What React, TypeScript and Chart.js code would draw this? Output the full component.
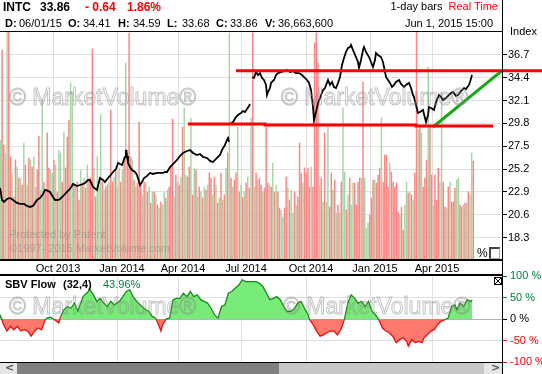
import React, { useEffect, useRef } from 'react';
import { Chart, registerables } from 'chart.js';

Chart.register(...registerables);

const FONT = '"Liberation Sans", Arial, Helvetica, sans-serif';

// ---- axis ticks (x in trading-day index units) ----
const MONTH_TICKS = [53, 117, 178, 241, 306, 370, 432];
const MONTH_LABELS = ['Oct 2013', 'Jan 2014', 'Apr 2014', 'Jul 2014', 'Oct 2014', 'Jan 2015', 'Apr 2015'];
const PRICE_TICKS = [36.7, 34.4, 32.1, 29.8, 27.5, 25.2, 22.9, 20.6, 18.3];
const SBV_TICKS = [100, 50, 0, -50, -100];
const X_MAX = 503;

// ---- volume (millions), one bar per slot ----
const VOLUME_SLOTS = 302;
const VOLUME = [
  48, 84, 46, 42.8, 91.2, 91.2, 41.2, 34.8, 25.2, 40,
  37.2, 32.8, 32.8, 30, 46.8, 38, 30, 40.8, 40, 37.2,
  41.2, 29.2, 36, 49.6, 28, 64, 31.2, 27.2, 50.8, 36.8,
  36, 34.8, 40, 38, 27.2, 44, 42.8, 31.2, 51.2, 36.8,
  49.2, 56, 70.8, 67.2, 30.8, 29.2, 31.2, 24, 36, 30.8,
  32.8, 28.8, 38, 32.8, 32.8, 84.4, 36.8, 25.2, 41.2, 29.2,
  58, 31.2, 28, 29.2, 30, 31.2, 60, 31.2, 33.2, 36,
  29.2, 36.8, 31.2, 36, 41.2, 78.8, 44, 90.8, 41.2, 40,
  32, 29.2, 30.8, 55.2, 30, 26, 31.2, 30.8, 27.2, 29.2,
  22.8, 27.2, 27.2, 26, 22, 20.8, 23.2, 22, 27.2, 24.8,
  28, 29.2, 37.2, 56.4, 25.2, 34, 31.2, 30, 33.2, 53.2,
  60.8, 34, 33.2, 37.2, 56.8, 26, 36.8, 36, 25.2, 29.2,
  27.2, 24.8, 29.2, 28, 30, 34.8, 32.8, 26, 33.2, 30,
  22.8, 24.8, 34.8, 24, 26, 36.8, 42.8, 90.8, 32.8, 29.2,
  32, 34.8, 53.2, 27.2, 30, 25.2, 27.2, 30.8, 33.2, 28.8,
  56.8, 90.8, 29.2, 34.8, 32, 32.8, 30, 27.2, 28.8, 53.2,
  30.8, 30, 29.2,
  38.8, 27.2, 30, 27.2, 20.8, 20, 17.2, 20.8, 33.2, 28.8,
  24, 28, 18.8, 27.2, 22, 25.2, 46.8, 34.8, 30.8, 36.8,
  34.8, 36.8, 29.2, 37.2, 29.2, 86.8, 90.8, 78.8, 30, 32.8,
  23.2, 50.8, 23.2, 53.2, 21.2, 34.8, 28, 32, 18.8, 22,
  18.8, 31.2, 60.8, 35.2, 20, 26, 32.8, 22, 30.8, 30.8,
  22, 31.2, 32.8, 32.8, 71.2, 32.8, 12.8, 14.8, 18, 24.8,
  32, 32, 30.8, 34, 36.8, 56.8, 31.2, 42, 42, 29.2,
  38.8, 35.2, 31.2, 29.2, 30.8, 19.2, 18, 21.2, 12, 22,
  31.2, 26.8, 27.2, 26, 24, 34.8, 91.2, 52, 53.2, 50.8,
  29.2, 32.8, 40, 77.2, 53.2, 34, 22, 34, 24, 36.8,
  31.2, 67.2, 31.2, 21.2, 20.8, 29.2, 31.2, 23.2, 23.2, 28.8,
  32, 32.8, 22, 21.2, 22, 22.8, 22.8, 27.2, 26, 42.8,
  39.6,
];
// g = up day (green), r = down day (red)
const VOLUME_DIR = (
  'grrggrrgrr' + 'grgrgrgrgr' + 'ggrrggrrrr' + 'ggrgrggrgr' + 'rrggrgrrgr' +
  'grgrrrgrgg' + 'grgrrgrrgr' + 'ggrgrgrrrg' + 'rgrrrgrgrg' + 'rgrgrgrggr' +
  'grrrgrgrgr' + 'ggrrgrgrgr' + 'grgrgrrgrg' + 'rgrgrgrgrg' + 'rrgrgrgrgr' +
  'grgrgrrgrr' + 'rgr' +
  'grgrrggrrg' + 'rggrgrrrgr' + 'rrrgrrrrgr' + 'grggrrgrgr' + 'grggrgrggr' +
  'rrrgrgggrr' + 'rgrrrgrrrr' + 'grrrrrgrrg' + 'grgrgrrgrg' + 'rrrgrrgrrr' +
  'ggrrgrgrrr' + 'ggrrgrgrggr'
).split('');

// ---- price (trading day, close) ----
const PRICE_A: [number, number][] = [
  [0, 23.3], [2, 22.09], [4, 21.89], [7, 22.19], [10, 22.29], [13, 22.09], [17, 21.79], [20, 21.69],
  [24, 21.69], [27, 21.49], [30, 21.39], [33, 21.49], [35, 21.79], [37, 22.09], [40, 22.29], [43, 22.69],
  [45, 23.1], [48, 23.0], [50, 22.9], [53, 22.39], [55, 22.09], [58, 22.09], [60, 22.19], [63, 22.49],
  [67, 22.9], [70, 23.2], [73, 23.7], [77, 23.5], [80, 23.6], [83, 23.7], [85, 23.8], [88, 24.1],
  [90, 24.1], [93, 23.4], [97, 23.1], [98, 23.5], [100, 24.3], [103, 24.1], [105, 23.9], [108, 24.3],
  [110, 24.51], [113, 24.91], [116, 25.21], [118, 25.81], [120, 25.71], [122, 25.61], [125, 26.42],
  [126, 27.12], [127, 26.52], [128, 25.81], [130, 25.41], [132, 25.11], [135, 24.91], [137, 24.61],
  [140, 23.6], [142, 23.9], [144, 24.3], [147, 24.51], [150, 24.81], [153, 24.71], [157, 24.81],
  [160, 24.81], [163, 24.81], [165, 24.91], [167, 24.91], [170, 25.41], [173, 25.71], [177, 26.12],
  [180, 26.52], [183, 26.82], [187, 27.02], [190, 27.12], [193, 26.82], [197, 26.62], [200, 26.72],
  [203, 26.42], [207, 26.32], [210, 26.02], [213, 25.91], [217, 26.32], [220, 26.62], [222, 27.12],
  [225, 27.63], [227, 28.13], [228, 28.33], [229, 27.93],
];
const PRICE_B: [number, number][] = [
  [230, 29.74], [233, 29.94], [236, 30.44], [238, 30.65], [241, 30.85], [243, 31.05], [245, 30.95],
  [247, 31.25], [249, 31.55], [250, 31.75],
];
const PRICE_C: [number, number][] = [
  [252, 34.47], [254, 34.37], [256, 34.97], [258, 34.67], [260, 34.87], [262, 34.37], [264, 34.17],
  [266, 33.67], [267, 32.66], [268, 32.96], [270, 33.36], [271, 33.87], [274, 34.17], [276, 34.67],
  [278, 34.87], [281, 34.97], [284, 35.07], [287, 35.18], [290, 34.97], [293, 35.07], [296, 34.87],
  [299, 34.87], [302, 34.67], [304, 34.47], [307, 34.17], [309, 33.87], [311, 33.16], [313, 31.45],
  [314, 30.14], [316, 30.95], [318, 31.85], [320, 32.36], [323, 33.16], [325, 33.36], [328, 34.17],
  [330, 33.67], [332, 33.97], [334, 33.46], [336, 33.36], [338, 33.87], [340, 34.47], [342, 35.68],
  [344, 36.38], [346, 36.99], [348, 37.39], [350, 37.49], [351, 37.69], [353, 37.19], [356, 36.48],
  [358, 35.98], [359, 35.38], [361, 36.18], [363, 37.19], [364, 37.49], [366, 36.99], [369, 36.48],
  [371, 35.98], [373, 35.48], [375, 36.18], [376, 36.89], [378, 36.68], [381, 36.48], [383, 35.98],
  [384, 35.48], [386, 34.47], [388, 34.17], [390, 33.87], [392, 33.46], [394, 33.67], [396, 33.97],
  [399, 34.17], [401, 33.77], [404, 33.46], [406, 33.67], [409, 33.87], [411, 33.36], [413, 32.66],
  [414, 32.46], [416, 31.65], [418, 30.85], [420, 30.95], [423, 31.15], [425, 30.34], [426, 29.94],
  [428, 30.65], [429, 31.45], [431, 31.35], [434, 31.15], [436, 31.95], [439, 32.66], [441, 32.46],
  [443, 32.16], [446, 32.36], [448, 32.56], [451, 32.86], [453, 32.96], [456, 32.56], [458, 32.66],
  [461, 33.06], [464, 33.36], [466, 33.26], [469, 33.67], [470, 33.97], [472, 34.67],
];

// ---- drawn study lines ----
const RESISTANCE: [number, number][] = [[236, 35.1], [542, 35.1]];
const SUPPORT: [number, number][] = [[188, 29.74], [265, 29.74], [265, 29.64], [416, 29.64], [416, 29.54], [493, 29.54]];
const TREND: [number, number][] = [[433, 29.44], [502, 35.12]];

// ---- SBV Flow (%) ----
const SBV: [number, number][] = [
  [0, 10], [1.7, 0], [3.5, -13], [6.9, -28], [10.4, -17], [13.8, -25], [17.3, -17], [20.8, -28],
  [24.2, -25], [27.7, -28], [31.1, -40], [34.6, -28], [38.1, -21], [41.5, -25], [45, -2], [46.7, 2],
  [50.2, 4], [53.6, 0], [58.8, -9], [60.6, 6], [64, 22], [67.5, 29], [70.9, 25], [74.4, 37], [77.9, 18],
  [83, 52], [86.5, 60], [90, 68], [93.4, 56], [96.9, 41], [100.3, 48], [103.8, 37], [107.3, 29],
  [110.7, 41], [114.2, 33], [119.4, 41], [122.8, 52], [126.3, 64], [129.8, 68], [133.2, 52],
  [136.7, 41], [141.9, 29], [145.3, 22], [148.8, 18], [152.2, 6], [155.7, 2], [159.2, -17],
  [160.9, -28], [162.6, -13], [166.1, 0], [169.6, 2], [173, 45], [176.5, 48], [179.9, 48],
  [183.4, 60], [186.9, 52], [190.3, 64], [193.8, 52], [197.2, 56], [200.7, 45], [204.2, 41],
  [207.6, 37], [211.1, 25], [214.5, 10], [218, 2], [221.5, 29], [224.9, 33], [228.4, 60],
  [231.8, 64], [235.3, 72], [238.8, 79], [242.2, 91], [245.7, 87], [249.1, 87], [256.1, 87],
  [259.5, 83], [263, 75], [266.4, 60], [269.9, 45], [273.4, 48], [276.8, 52], [280.3, 45],
  [283.7, 29], [287.2, 18], [290.7, 18], [294.1, 22], [297.6, 37], [301, 41], [304.5, 25],
  [308, 10], [309.7, -2], [313.1, -13], [316.6, -28], [320.1, -40], [323.5, -37], [327, -32],
  [330.4, -28], [333.9, -28], [337.4, -37], [340.8, -25], [344.3, -2], [347.8, 37], [351.2, 56],
  [354.7, 48], [358.1, 37], [361.6, 41], [365.1, 29], [368.5, 41], [372, 18], [375.4, 10],
  [378.9, -2], [382.4, -21], [385.8, -28], [389.3, -32], [392.7, -40], [396.2, -55], [399.7, -48],
  [403.1, -44], [406.6, -52], [408.3, -63], [411.8, -48], [415.2, -55], [418.7, -52], [422.1, -55],
  [423.9, -44], [427.3, -37], [430.8, -28], [434.3, -25], [437.7, -13], [441.2, -5], [444.6, -2],
  [448.1, 2], [451.6, 29], [455, 33], [456.7, 22], [460.2, 37], [463.7, 29], [467.1, 45],
  [470.6, 41], [472.3, 44],
];

const VOL_UP = '#a9d5a6';
const VOL_DOWN = '#ff8585';
const GRID = '#e0e0e0';
const GREEN_TXT = '#008040';
const RED = '#ff0000';

const toPts = (arr: [number, number][]) => arr.map(([x, y]) => ({ x, y }));
const sbvColor = (v: number) => (v > 0 ? GREEN_TXT : v < 0 ? RED : '#000');

export default function App() {
  const mainRef = useRef<HTMLCanvasElement>(null);
  const sbvRef = useRef<HTMLCanvasElement>(null);

  useEffect(() => {
    document.body.style.margin = '0';
    Chart.defaults.font.family = FONT;
    Chart.defaults.font.size = 11;
    Chart.defaults.color = '#000';

    const wmMain = {
      id: 'wmMain',
      afterDatasetsDraw(chart: any) {
        const ctx = chart.ctx;
        ctx.save();
        ctx.font = `23px ${FONT}`;
        ctx.strokeStyle = 'rgba(140,140,140,0.5)';
        ctx.lineWidth = 1;
        ctx.strokeText('© MarketVolume®', 9, 105);
        ctx.strokeText('© MarketVolume®', 281, 105);
        ctx.font = `11px ${FONT}`;
        ctx.fillStyle = 'rgba(120,120,120,0.45)';
        ctx.fillText('Protected by Patent', 9, 238);
        ctx.fillText('©1997- 2015 MarketVolume.com', 9, 252);
        ctx.restore();
      },
    };
    const wmSbv = {
      id: 'wmSbv',
      afterDatasetsDraw(chart: any) {
        const ctx = chart.ctx;
        ctx.save();
        ctx.font = `23px ${FONT}`;
        ctx.strokeStyle = 'rgba(140,140,140,0.5)';
        ctx.lineWidth = 1;
        ctx.strokeText('© MarketVolume®', 9, 52);
        ctx.strokeText('© MarketVolume®', 283, 52);
        ctx.restore();
      },
    };

    const slotLabels = Array.from({ length: VOLUME_SLOTS }, (_, i) => String(i));
    const lineBase = { pointRadius: 0, tension: 0, xAxisID: 'x', yAxisID: 'y', fill: false };

    const c1 = new Chart(mainRef.current as HTMLCanvasElement, {
      type: 'bar',
      data: {
        labels: slotLabels,
        datasets: [
          { ...lineBase, type: 'line', label: 'Resistance', data: toPts(RESISTANCE), borderColor: RED, borderWidth: 3, clip: false, order: 0 } as any,
          { ...lineBase, type: 'line', label: 'Support', data: toPts(SUPPORT), borderColor: RED, borderWidth: 3, clip: false, order: 0 } as any,
          { ...lineBase, type: 'line', label: 'Trend', data: toPts(TREND), borderColor: '#16a816', borderWidth: 3, clip: false, order: 0 } as any,
          { ...lineBase, type: 'line', label: 'INTC', data: toPts(PRICE_A), borderColor: '#000', borderWidth: 1.8, order: 1 } as any,
          { ...lineBase, type: 'line', label: 'INTC b', data: toPts(PRICE_B), borderColor: '#000', borderWidth: 1.8, order: 1 } as any,
          { ...lineBase, type: 'line', label: 'INTC c', data: toPts(PRICE_C), borderColor: '#000', borderWidth: 1.8, order: 1 } as any,
          {
            type: 'bar', label: 'Volume', data: VOLUME, xAxisID: 'xv', yAxisID: 'yv',
            backgroundColor: VOLUME_DIR.map((d) => (d === 'g' ? VOL_UP : VOL_DOWN)),
            barPercentage: 1, categoryPercentage: 1, borderWidth: 0, order: 2,
          } as any,
        ],
      },
      options: {
        animation: false,
        responsive: false,
        maintainAspectRatio: false,
        layout: { padding: { top: 32, left: 0, right: 0, bottom: 0 } },
        plugins: { legend: { display: false }, tooltip: { enabled: false } },
        scales: {
          x: {
            type: 'linear', position: 'bottom', min: 0, max: X_MAX, offset: false,
            afterBuildTicks: (s: any) => { s.ticks = MONTH_TICKS.map((v) => ({ value: v })); },
            afterFit: (s: any) => { s.height = 15; },
            ticks: {
              autoSkip: false, maxRotation: 0, padding: 2, labelOffset: 5, color: '#000',
              font: { size: 11, family: FONT },
              callback: (_v: any, i: number) => MONTH_LABELS[i],
            },
            grid: { color: GRID, drawTicks: false, offset: false },
            border: { display: false },
          },
          xv: { type: 'category', display: false, offset: false, grid: { offset: false } },
          y: {
            type: 'linear', position: 'right', min: 16.05, max: 39.0,
            afterBuildTicks: (s: any) => { s.ticks = PRICE_TICKS.map((v) => ({ value: v })); },
            afterFit: (s: any) => { s.width = 39; },
            ticks: { padding: 1, color: '#000', font: { size: 11, family: FONT }, callback: (v: any) => Number(v).toFixed(1) },
            grid: { color: GRID, tickColor: '#000', tickLength: 4 },
            border: { display: false },
          },
          yv: { type: 'linear', display: false, min: 0, max: 91.2 },
        },
      } as any,
      plugins: [wmMain],
    });

    const c2 = new Chart(sbvRef.current as HTMLCanvasElement, {
      type: 'line',
      data: {
        datasets: [
          {
            label: 'SBV Flow', data: toPts(SBV), pointRadius: 0, tension: 0, borderWidth: 1.3,
            borderColor: '#1a8a1a',
            segment: { borderColor: (ctx: any) => (ctx.p0.parsed.y + ctx.p1.parsed.y < 0 ? '#e81010' : '#1a8a1a') },
            fill: { target: 'origin', above: '#78ec78', below: '#ff786e' },
          } as any,
        ],
      },
      options: {
        animation: false,
        responsive: false,
        maintainAspectRatio: false,
        layout: { padding: { top: 14, left: 0, right: 0, bottom: 12 } },
        plugins: { legend: { display: false }, tooltip: { enabled: false } },
        scales: {
          x: {
            type: 'linear', min: 0, max: X_MAX, offset: false,
            afterBuildTicks: (s: any) => { s.ticks = MONTH_TICKS.map((v) => ({ value: v })); },
            afterFit: (s: any) => { s.height = 0; },
            ticks: { display: false },
            grid: { color: GRID, drawTicks: false, offset: false },
            border: { display: false },
          },
          y: {
            type: 'linear', position: 'right', min: -100, max: 100,
            afterBuildTicks: (s: any) => { s.ticks = SBV_TICKS.map((v) => ({ value: v })); },
            afterFit: (s: any) => { s.width = 39; },
            ticks: {
              padding: 3, font: { size: 11, family: FONT },
              color: (ctx: any) => sbvColor(ctx.tick.value),
              callback: (v: any) => `${v} %`,
            },
            grid: {
              color: (ctx: any) => {
                const v = ctx.tick ? ctx.tick.value : 1;
                if (v === 0) return '#b4b4b4';
                if (Math.abs(v) === 100) return 'rgba(0,0,0,0)';
                return GRID;
              },
              tickColor: (ctx: any) => sbvColor(ctx.tick ? ctx.tick.value : 0),
              tickLength: 4,
            },
            border: { display: false },
          },
        },
      } as any,
      plugins: [wmSbv],
    });

    return () => { c1.destroy(); c2.destroy(); };
  }, []);

  const abs = (left: number, top: number, extra: React.CSSProperties = {}): React.CSSProperties => ({
    position: 'absolute', left, top, whiteSpace: 'nowrap', ...extra,
  });
  const h1: React.CSSProperties = { font: `bold 12px ${FONT}`, lineHeight: '12px' };
  const h2: React.CSSProperties = { font: `11px ${FONT}`, lineHeight: '11px' };
  const h2b: React.CSSProperties = { font: `bold 11px ${FONT}`, lineHeight: '11px' };
  const line = (left: number, top: number, width: number, height: number): React.CSSProperties => ({
    position: 'absolute', left, top, width, height, background: '#000',
  });

  const info: [number, string, boolean][] = [
    [5, 'D:', true], [19, '06/01/15', false], [68, 'O:', true], [83, '34.41', false],
    [118, 'H:', true], [133, '34.59', false], [167, 'L:', true], [182, '33.68', false],
    [216, 'C:', true], [230, '33.86', false], [265, 'V:', true], [278, '36,663,600', false],
  ];

  return (
    <div style={{ position: 'relative', width: 542, height: 374, overflow: 'hidden', background: '#fff' }}>
      <canvas ref={mainRef} width={542} height={275} style={{ position: 'absolute', left: 0, top: 0, width: 542, height: 275 }} />
      <canvas ref={sbvRef} width={542} height={112} style={{ position: 'absolute', left: 0, top: 262, width: 542, height: 112 }} />

      {/* header */}
      <div style={abs(3, 1, h1)}>INTC</div>
      <div style={abs(40, 1, h1)}>33.86</div>
      <div style={abs(85, 1, { ...h1, color: RED })}>- 0.64</div>
      <div style={abs(127, 1, { ...h1, color: RED })}>1.86%</div>
      {info.map(([x, t, b]) => (
        <div key={x} style={abs(x, 17.5, b ? h2b : h2)}>{t}</div>
      ))}
      <div style={{ position: 'absolute', right: 44, top: 1.4, whiteSpace: 'nowrap', ...h2 }}>
        1-day bars<span style={{ color: RED, marginLeft: 6 }}>Real Time</span>
      </div>
      <div style={{ position: 'absolute', right: 49, top: 17.5, whiteSpace: 'nowrap', ...h2 }}>Jun 1, 2015 15:00</div>
      <div style={abs(510, 25.5, h2)}>Index</div>

      {/* frame lines */}
      <div style={line(0, 31, 503, 1)} />
      <div style={line(0, 259, 503, 2)} />
      <div style={line(0, 274, 503, 2)} />
      <div style={line(0, 362, 503, 1)} />
      <div style={line(502, 0, 1, 374)} />

      {/* % checkbox */}
      <div style={abs(477, 247, { font: `12px ${FONT}`, lineHeight: '12px' })}>%</div>
      <div style={{ position: 'absolute', left: 489, top: 247, width: 8, height: 9, background: '#fff', borderTop: '2px solid #444', borderLeft: '2px solid #444', borderRight: '1px solid #aaa', borderBottom: '1px solid #aaa' }} />

      {/* SBV title */}
      <div style={abs(5, 278.7, h2b)}>SBV Flow</div>
      <div style={abs(63, 278.7, h2b)}>(32,4)</div>
      <div style={abs(103, 278.7, { ...h2, color: GREEN_TXT })}>43.96%</div>
      <div style={{
        position: 'absolute', left: 494, top: 277, width: 6, height: 6, border: '1px solid #000', background:
          'linear-gradient(45deg, transparent 42%, #000 42%, #000 58%, transparent 58%), linear-gradient(-45deg, #fff 42%, #000 42%, #000 58%, #fff 58%)',
      }} />

      {/* scrollbar */}
      <div style={{ position: 'absolute', left: 0, top: 363, width: 17, height: 11, background: '#e6e6e6' }} />
      <div style={abs(5, 362, { font: `bold 11px "DejaVu Sans", sans-serif`, lineHeight: '12px', color: '#555' })}>&lt;</div>
      <div style={{ position: 'absolute', left: 17, top: 363, width: 262, height: 11, background: '#808080' }} />
      <div style={{ position: 'absolute', left: 279, top: 363, width: 205, height: 11, background: '#c8c8c8' }} />
      <div style={{ position: 'absolute', left: 484, top: 363, width: 18, height: 11, background: '#e6e6e6' }} />
      <div style={abs(491, 362, { font: `bold 11px "DejaVu Sans", sans-serif`, lineHeight: '12px', color: '#555' })}>&gt;</div>
    </div>
  );
}
